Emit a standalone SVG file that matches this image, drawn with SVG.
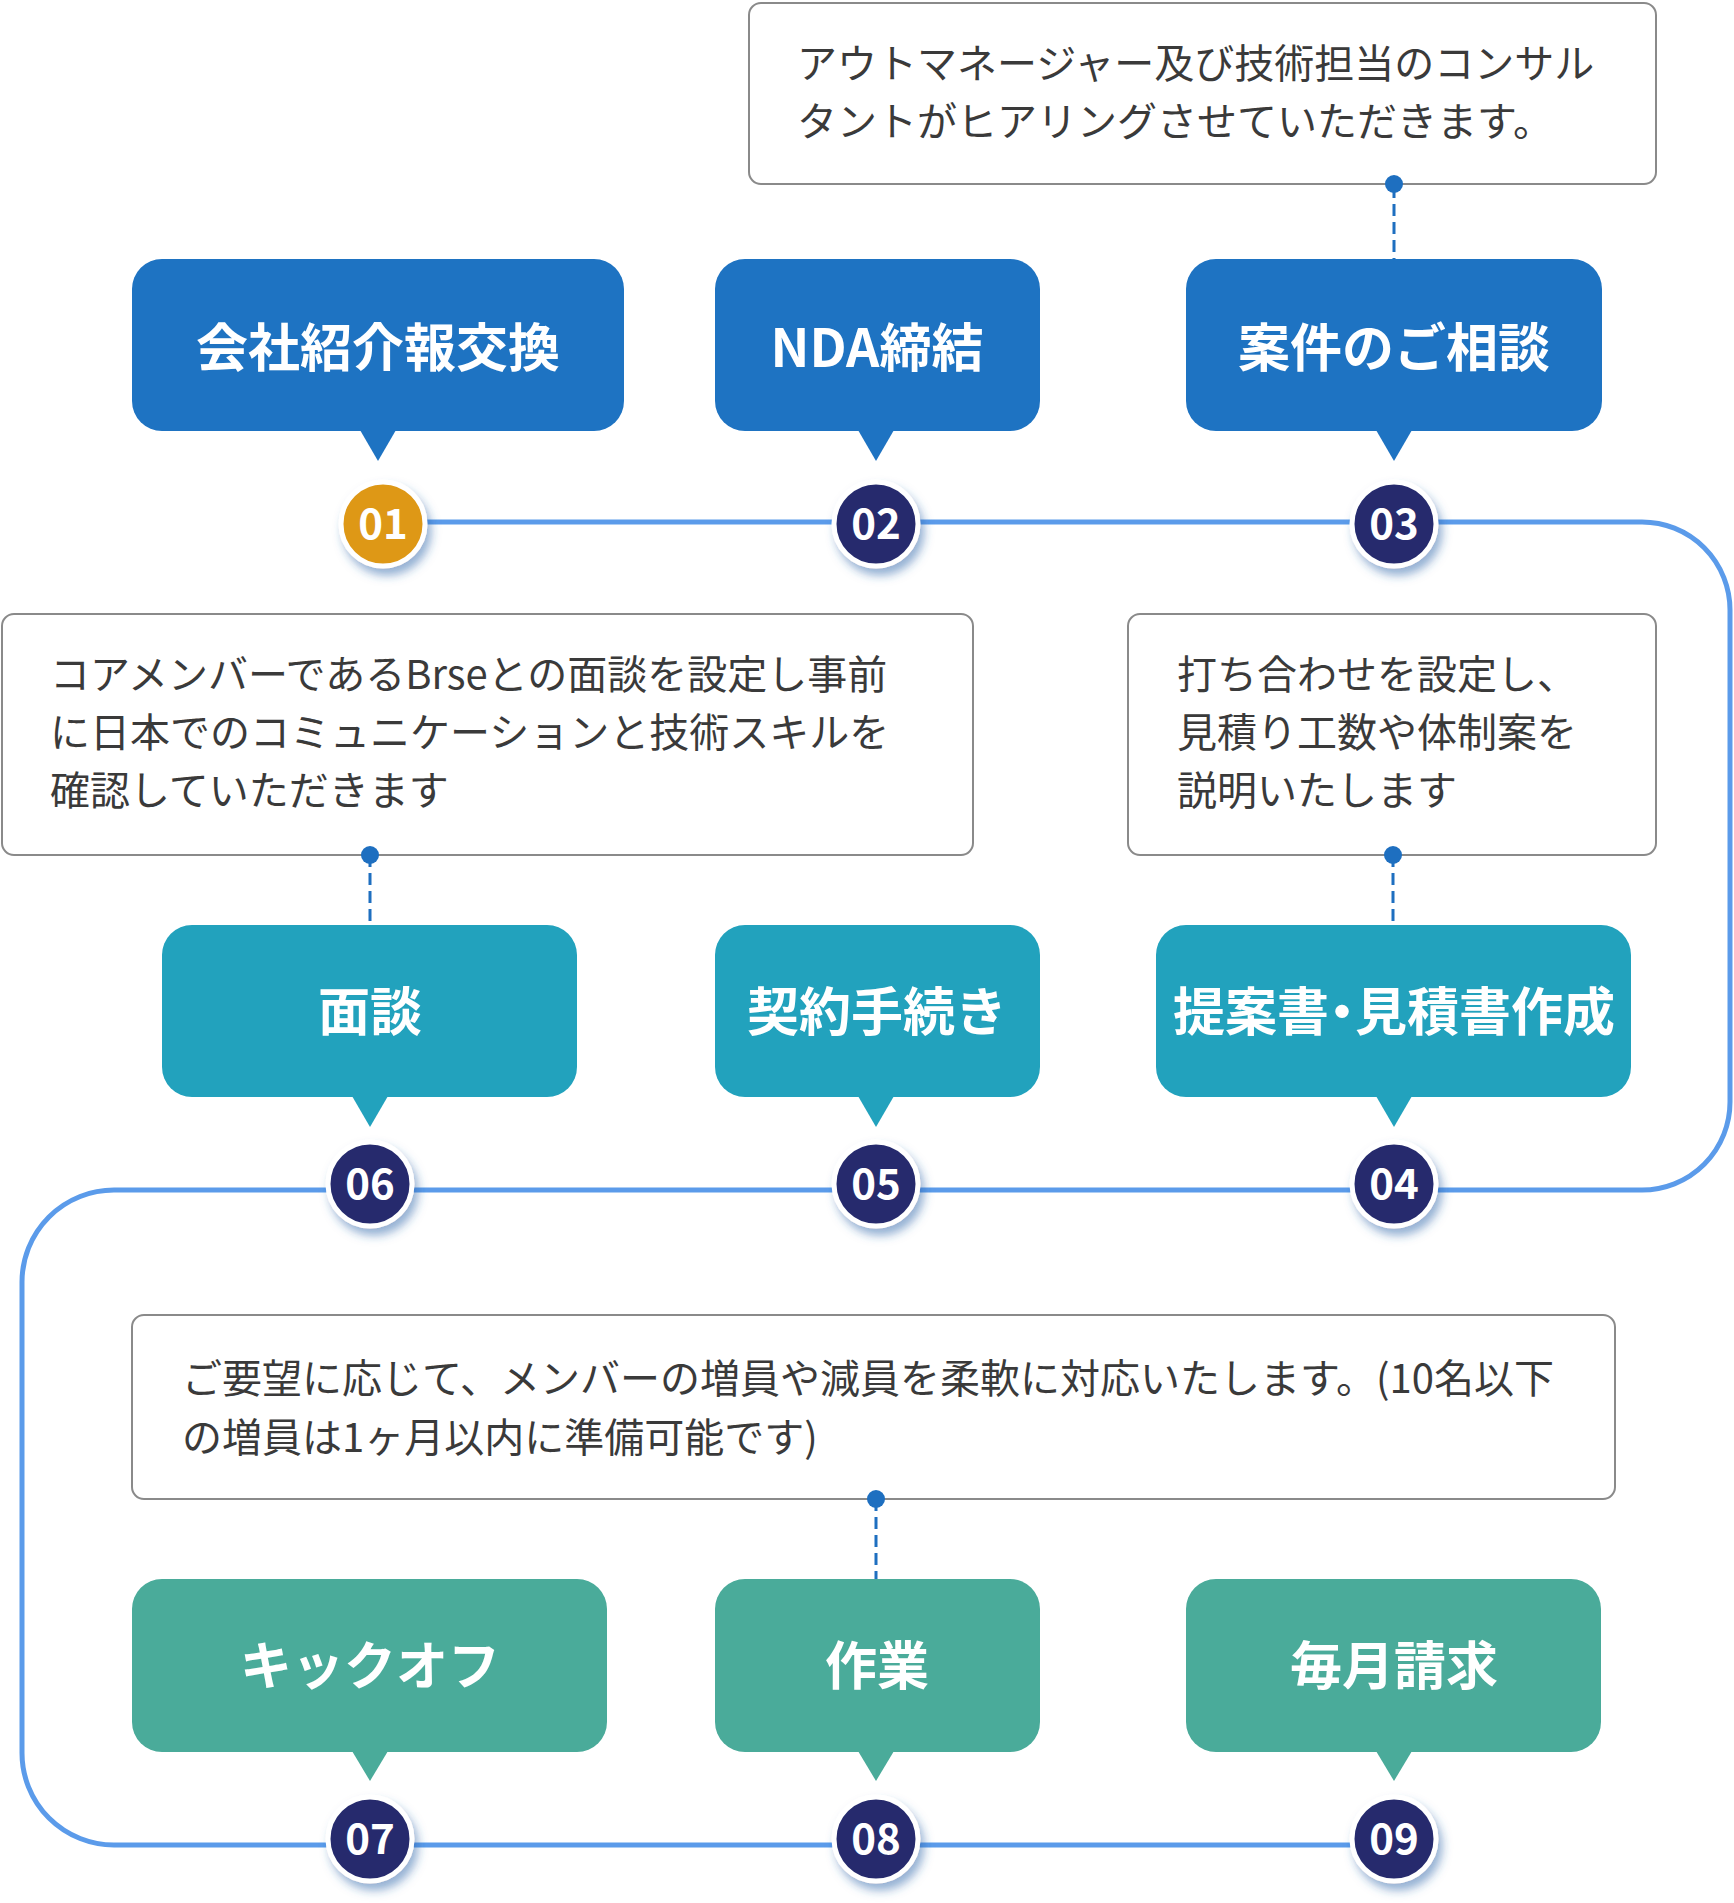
<svg xmlns="http://www.w3.org/2000/svg" width="1734" height="1903" viewBox="0 0 1734 1903">
<style>
.note{fill:#ffffff;stroke:#8a8a8a;stroke-width:2}
.nt{font-family:"Noto Sans CJK JP","Noto Sans",sans-serif;font-size:40px;fill:#3a3a3a;font-weight:400}
.lbl{font-family:"Noto Sans CJK JP","Noto Sans",sans-serif;font-size:52px;fill:#ffffff;font-weight:700;text-anchor:middle}
.num{font-family:"Noto Sans CJK JP","Noto Sans",sans-serif;font-size:42px;fill:#ffffff;font-weight:700;text-anchor:middle}
.b1{fill:#1e73c2}
.b2{fill:#22a2bd}
.b3{fill:#4aab9a}
.c{fill:#262c6d;stroke:#ffffff;stroke-width:5;filter:url(#sh)}
.c1{fill:#de9817;stroke:#ffffff;stroke-width:5;filter:url(#sh)}
.flow{fill:none;stroke:#5b9bea;stroke-width:5}
.dash{fill:none;stroke:#1e6fc0;stroke-width:3;stroke-dasharray:12 6}
.dot{fill:#1e6fc0}
</style>
<defs>
<filter id="sh" x="-40%" y="-40%" width="190%" height="190%">
<feDropShadow dx="4" dy="7" stdDeviation="5" flood-color="#2a64a8" flood-opacity="0.5"/>
</filter>
</defs>
<rect width="1734" height="1903" fill="#ffffff"/>

<g id="connectors">
<path class="flow" d="M 383 522 H 1642 A 88 88 0 0 1 1730 610 V 1102 A 88 88 0 0 1 1642 1190 H 114 A 92 92 0 0 0 22 1282 V 1753 A 92 92 0 0 0 114 1845 H 1394"/>
<line class="dash" x1="1394" y1="186" x2="1394" y2="260"/>
<line class="dash" x1="370" y1="855" x2="370" y2="926"/>
<line class="dash" x1="1393" y1="855" x2="1393" y2="926"/>
<line class="dash" x1="876" y1="1499" x2="876" y2="1580"/>
</g>

<g id="note-03">
<rect class="note" x="749" y="3" width="907" height="181" rx="12"/>
<text class="nt" x="797" y="78">アウトマネージャー及び技術担当のコンサル</text>
<text class="nt" x="797" y="136">タントがヒアリングさせていただきます。</text>
<circle class="dot" cx="1394" cy="184" r="9"/>
</g>

<g id="note-06">
<rect class="note" x="2" y="614" width="971" height="241" rx="12"/>
<text class="nt" x="50" y="689">コアメンバーであるBrseとの面談を設定し事前</text>
<text class="nt" x="50" y="747">に日本でのコミュニケーションと技術スキルを</text>
<text class="nt" x="50" y="805">確認していただきます</text>
<circle class="dot" cx="370" cy="855" r="9"/>
</g>

<g id="note-04">
<rect class="note" x="1128" y="614" width="528" height="241" rx="12"/>
<text class="nt" x="1177" y="689">打ち合わせを設定し、</text>
<text class="nt" x="1177" y="747">見積り工数や体制案を</text>
<text class="nt" x="1177" y="805">説明いたします</text>
<circle class="dot" cx="1393" cy="855" r="9"/>
</g>

<g id="note-08">
<rect class="note" x="132" y="1315" width="1483" height="184" rx="12"/>
<text class="nt" x="182" y="1393">ご要望に応じて、メンバーの増員や減員を柔軟に対応いたします。(10名以下</text>
<text class="nt" x="182" y="1452">の増員は1ヶ月以内に準備可能です)</text>
<circle class="dot" cx="876" cy="1499" r="9"/>
</g>

<g id="step-01">
<rect class="b1" x="132" y="259" width="492" height="172" rx="30"/>
<polygon class="b1" points="360,430 396,430 378,461"/>
<text class="lbl" x="378" y="367">会社紹介報交換</text>
<circle class="c1" cx="383" cy="524" r="42"/>
<text class="num" x="383" y="539">01</text>
</g>

<g id="step-02">
<rect class="b1" x="715" y="259" width="325" height="172" rx="30"/>
<polygon class="b1" points="858,430 894,430 876,461"/>
<text class="lbl" x="877" y="367">NDA締結</text>
<circle class="c" cx="876" cy="524" r="42"/>
<text class="num" x="876" y="539">02</text>
</g>

<g id="step-03">
<rect class="b1" x="1186" y="259" width="416" height="172" rx="30"/>
<polygon class="b1" points="1376,430 1412,430 1394,461"/>
<text class="lbl" x="1394" y="367">案件のご相談</text>
<circle class="c" cx="1394" cy="524" r="42"/>
<text class="num" x="1394" y="539">03</text>
</g>

<g id="step-04">
<rect class="b2" x="1156" y="925" width="475" height="172" rx="30"/>
<polygon class="b2" points="1376,1096 1412,1096 1394,1127"/>
<text class="lbl" x="1394" y="1031" style="font-feature-settings:'palt'">提案書・見積書作成</text>
<circle class="c" cx="1394" cy="1184" r="42"/>
<text class="num" x="1394" y="1199">04</text>
</g>

<g id="step-05">
<rect class="b2" x="715" y="925" width="325" height="172" rx="30"/>
<polygon class="b2" points="858,1096 894,1096 876,1127"/>
<text class="lbl" x="877" y="1031">契約手続き</text>
<circle class="c" cx="876" cy="1184" r="42"/>
<text class="num" x="876" y="1199">05</text>
</g>

<g id="step-06">
<rect class="b2" x="162" y="925" width="415" height="172" rx="30"/>
<polygon class="b2" points="352,1096 388,1096 370,1127"/>
<text class="lbl" x="370" y="1031">面談</text>
<circle class="c" cx="370" cy="1184" r="42"/>
<text class="num" x="370" y="1199">06</text>
</g>

<g id="step-07">
<rect class="b3" x="132" y="1579" width="475" height="173" rx="30"/>
<polygon class="b3" points="352,1751 388,1751 370,1781"/>
<text class="lbl" x="370" y="1685">キックオフ</text>
<circle class="c" cx="370" cy="1839" r="42"/>
<text class="num" x="370" y="1854">07</text>
</g>

<g id="step-08">
<rect class="b3" x="715" y="1579" width="325" height="173" rx="30"/>
<polygon class="b3" points="858,1751 894,1751 876,1781"/>
<text class="lbl" x="877" y="1685">作業</text>
<circle class="c" cx="876" cy="1839" r="42"/>
<text class="num" x="876" y="1854">08</text>
</g>

<g id="step-09">
<rect class="b3" x="1186" y="1579" width="415" height="173" rx="30"/>
<polygon class="b3" points="1376,1751 1412,1751 1394,1781"/>
<text class="lbl" x="1394" y="1685">毎月請求</text>
<circle class="c" cx="1394" cy="1839" r="42"/>
<text class="num" x="1394" y="1854">09</text>
</g>
</svg>
